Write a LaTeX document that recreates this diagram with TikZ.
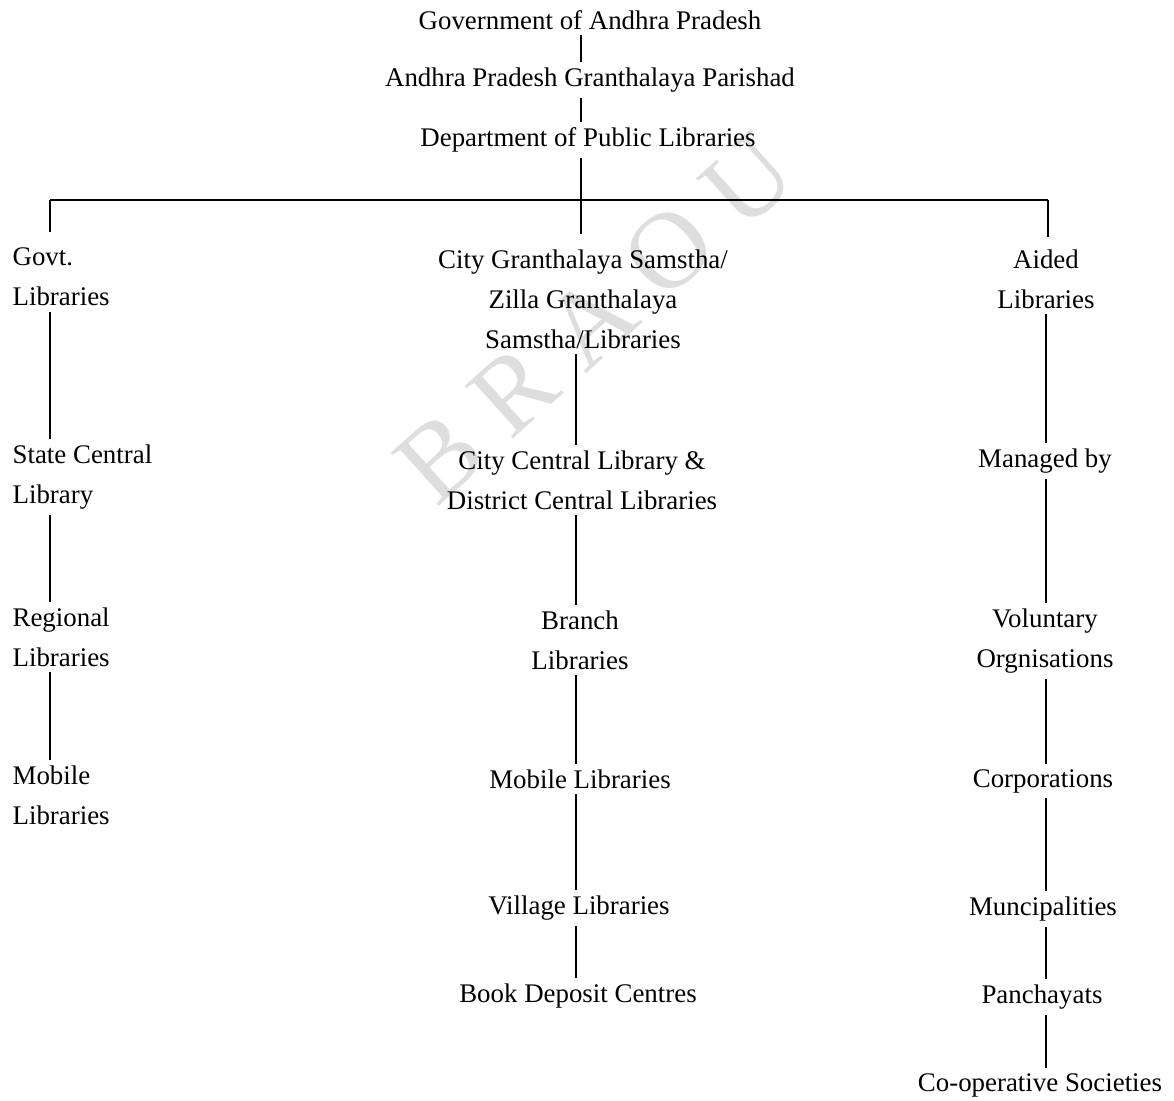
\documentclass[tikz,border=0pt]{standalone}
\usepackage{fontspec}
\setmainfont{Liberation Serif}
\tikzset{
  lbl/.style={inner sep=3pt, align=center, font=\fontsize{15.3}{22.7}\selectfont},
  leftlbl/.style={lbl, anchor=west, align=left},
  link/.style={line width=1.4pt},
}
\begin{document}
\begin{tikzpicture}[x=0.02cm, y=-0.02cm]
  \useasboundingbox (0,0) rectangle (1174,1100);
  \node[rotate=42, text=black!13, font=\fontsize{62}{62}\selectfont] (mark) at (595,318) {B R A O U};
  \draw
    (590,20) node[lbl] (gov){Government of Andhra Pradesh}
    (590,80) node[lbl] (apgp){Andhra Pradesh Granthalaya Parishad}
    (588,140) node[lbl] (dpl){Department of Public Libraries}
    (7,277) node[leftlbl] (govt){Govt.\\Libraries}
    (7,477) node[leftlbl] (state){State Central\\Library}
    (7,637) node[leftlbl] (regional){Regional\\Libraries}
    (7,795) node[leftlbl] (lmobile){Mobile\\Libraries}
    (583,299) node[lbl] (city){City Granthalaya Samstha/\\Zilla Granthalaya\\Samstha/Libraries}
    (582,480) node[lbl] (ccl){City Central Library \&\\District Central Libraries}
    (580,640) node[lbl] (branch){Branch\\Libraries}
    (580,779) node[lbl] (mmobile){Mobile Libraries}
    (579,908) node[lbl] (village){Village Libraries}
    (578,996) node[lbl] (deposit){Book Deposit Centres}
    (1046,279) node[lbl] (aided){Aided\\Libraries}
    (1045,461) node[lbl] (managed){Managed by}
    (1045,641) node[lbl] (voluntary){Voluntary\\Orgnisations}
    (1043,781) node[lbl] (corp){Corporations}
    (1043,909) node[lbl] (munci){Muncipalities}
    (1042,997) node[lbl] (panch){Panchayats}
    (1040,1085) node[lbl] (coop){Co-operative Societies};
  \coordinate (barL) at (50,200);
  \coordinate (barM) at (581,200);
  \coordinate (barR) at (1048,200);
  \coordinate (mspine) at (576,200);
  \coordinate (rspine) at (1046,200);
  \begin{scope}[link]
    \draw (gov.south -| barM) to (apgp.north -| barM);
    \draw (apgp.south -| barM) to (dpl.north -| barM);
    \draw (dpl.south -| barM) to (barM);
    \draw (barL) to (barR);
    \draw[shorten >=6pt] (barL) to (govt.north -| barL);
    \draw[shorten >=6pt] (barM) to (city.north -| barM);
    \draw[shorten >=4pt] (barR) to (aided.north -| barR);
    \draw (govt.south -| barL) to (state.north -| barL);
    \draw (state.south -| barL) to (regional.north -| barL);
    \draw (regional.south -| barL) to (lmobile.north -| barL);
    \draw (city.south -| mspine) to (ccl.north -| mspine);
    \draw (ccl.south -| mspine) to (branch.north -| mspine);
    \draw (branch.south -| mspine) to (mmobile.north -| mspine);
    \draw (mmobile.south -| mspine) to (village.north -| mspine);
    \draw (village.south -| mspine) to (deposit.north -| mspine);
    \draw (aided.south -| rspine) to (managed.north -| rspine);
    \draw (managed.south -| rspine) to (voluntary.north -| rspine);
    \draw (voluntary.south -| rspine) to (corp.north -| rspine);
    \draw (corp.south -| rspine) to (munci.north -| rspine);
    \draw (munci.south -| rspine) to (panch.north -| rspine);
    \draw (panch.south -| rspine) to (coop.north -| rspine);
  \end{scope}
\end{tikzpicture}
\end{document}
